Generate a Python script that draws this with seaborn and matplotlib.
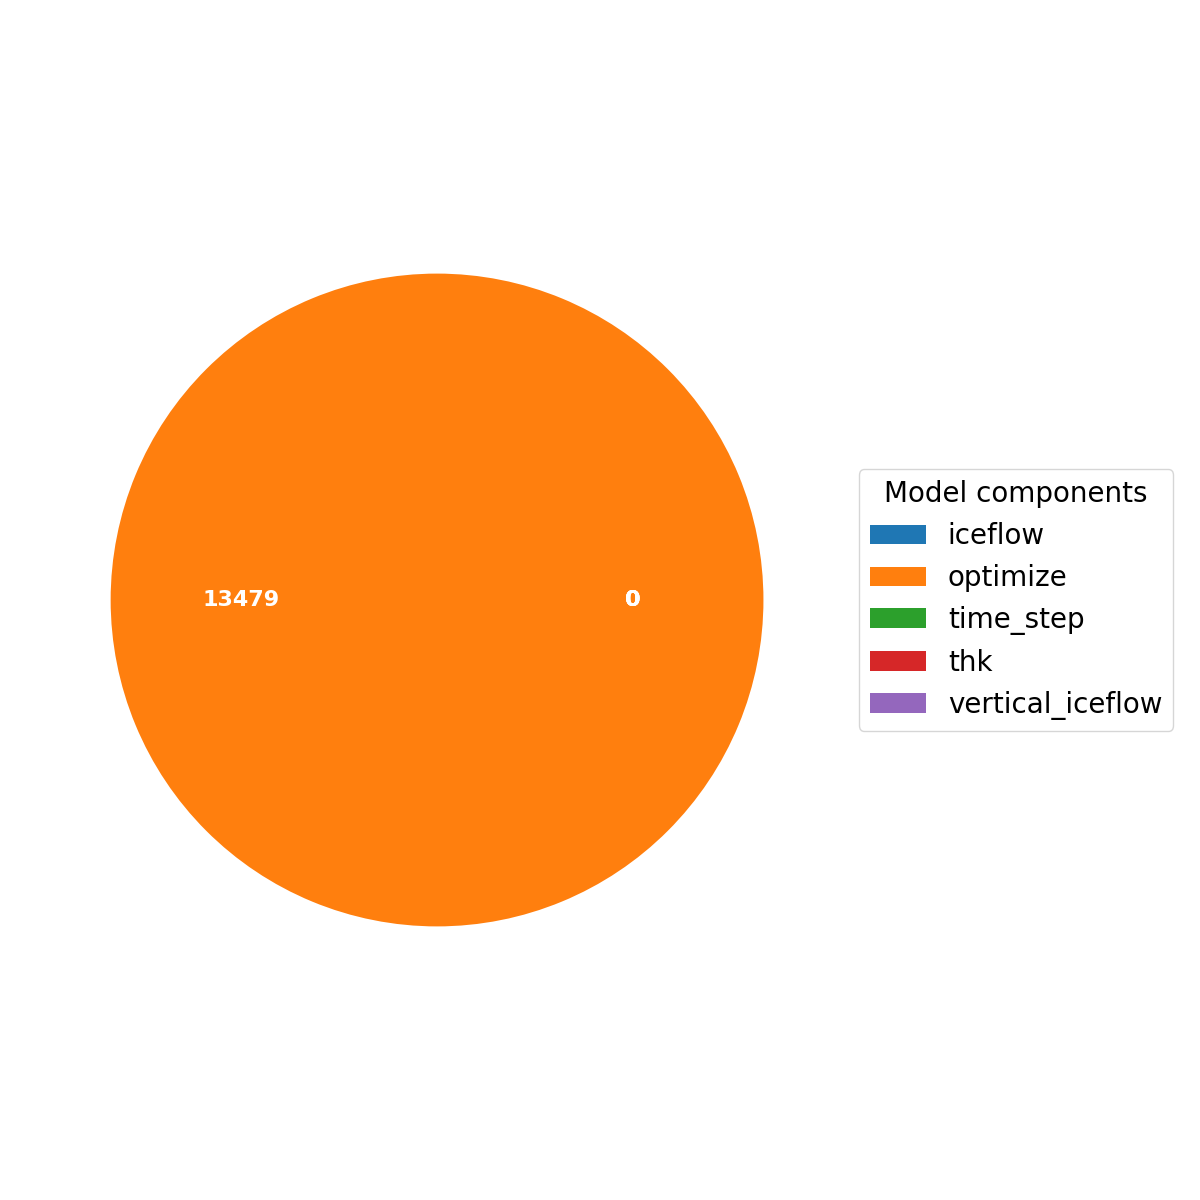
import matplotlib
matplotlib.use("Agg")
import matplotlib.pyplot as plt
import numpy as np
import seaborn as sns

# Time spent per model component
components = ['iceflow', 'optimize', 'time_step', 'thk', 'vertical_iceflow']
values = [0, 13479, 0, 0, 0]

colors = sns.color_palette("tab10", len(components))

fig = plt.figure(figsize=(12, 12), dpi=100)
ax = fig.add_axes([0.0242, 0.16, 0.68, 0.68])

total = np.sum(values)
wedges, texts, autotexts = ax.pie(
    values, colors=colors,
    autopct=lambda p: '{:.0f}'.format(p * total / 100),
    textprops=dict(color="w"))
plt.setp(autotexts, size=16, weight="bold")

ax.legend(wedges, components, title="Model components",
          loc="center left", bbox_to_anchor=(1, 0, 0.5, 1),
          fontsize=20, title_fontsize=20)

fig.savefig("out.png", dpi=100)
